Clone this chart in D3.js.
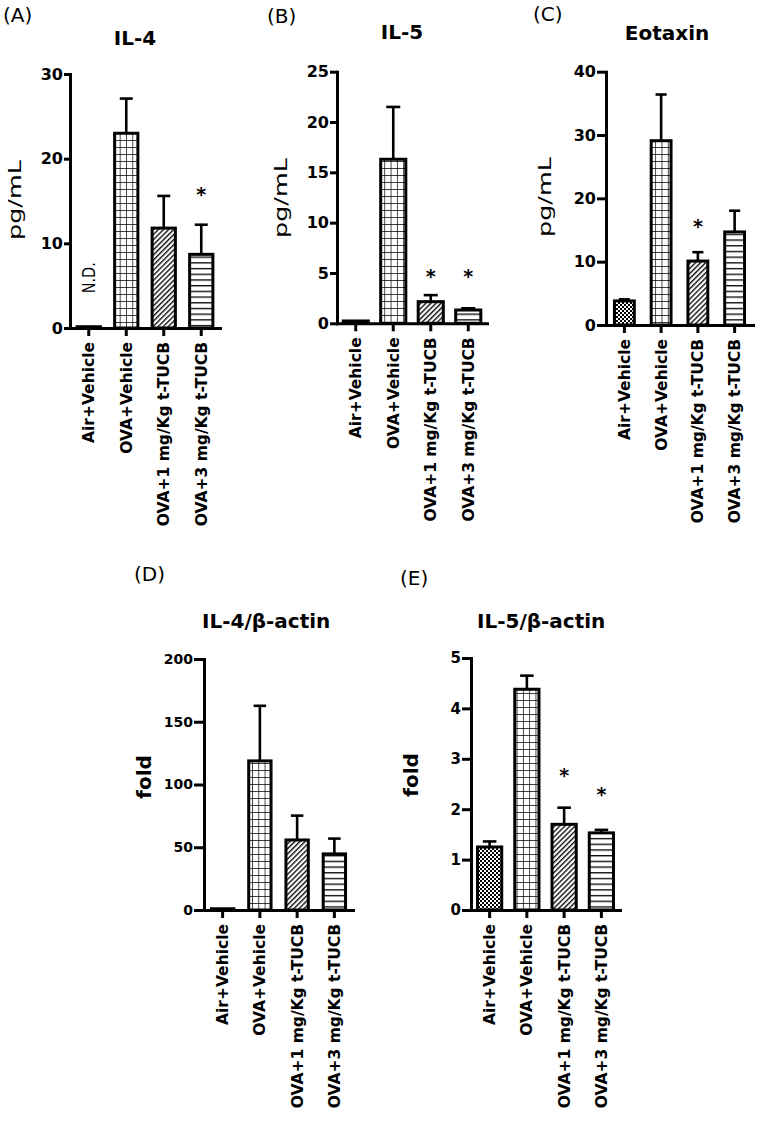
<!DOCTYPE html>
<html><head><meta charset="utf-8">
<script src="https://cdn.jsdelivr.net/npm/d3@7"></script>
<style>body{margin:0;background:#fff} svg{display:block}</style>
</head><body>
<svg id="chart" width="757" height="1124"></svg>
<script>
// ---------- data ----------
const categories = ["Air+Vehicle", "OVA+Vehicle", "OVA+1 mg/Kg t-TUCB", "OVA+3 mg/Kg t-TUCB"];
const patternNames = ["checker", "grid", "diag", "hlines"];

const il4Mean = [0.15, 23.0, 11.8, 8.7];
const il4Sem  = [0, 4.1, 3.8, 3.5];
const il5Mean = [0.23, 16.3, 2.15, 1.32];
const il5Sem  = [0, 5.2, 0.65, 0.17];
const eotaxinMean = [3.8, 29.1, 10.1, 14.7];
const eotaxinSem  = [0.25, 7.3, 1.4, 3.35];
const il4ActinMean = [1, 118.8, 55.8, 44.7];
const il4ActinSem  = [0, 43.9, 19.4, 12.2];
const il5ActinMean = [1.25, 4.38, 1.70, 1.53];
const il5ActinSem  = [0.11, 0.27, 0.33, 0.06];

const ticksA = [0, 10, 20, 30];
const ticksB = [0, 5, 10, 15, 20, 25];
const ticksC = [0, 10, 20, 30, 40];
const ticksD = [0, 50, 100, 150, 200];
const ticksE = [0, 1, 2, 3, 4, 5];

// asterisk positions in data units (null = no mark)
const starsA = [null, null, null, 16.3];
const starsB = [null, null, 5.1, 5.1];
const starsC = [null, null, 16.2, null];
const starsD = [null, null, null, null];
const starsE = [null, null, 2.75, 2.38];

const panelLetters = ["(A)", "(B)", "(C)", "(D)", "(E)"];
const panelTitles = ["IL-4", "IL-5", "Eotaxin", "IL-4/β-actin", "IL-5/β-actin"];
const yTitles = ["pg/mL", "pg/mL", "pg/mL", "fold", "fold"];
const ndText = "N.D.";
const ndValue = 4.1; // bottom of the N.D. label, data units (panel A, Air)

// ---------- layout ----------
const layout = [
  {x0:70,  x1:220, yB:328,   yT:74,   pad:0.38, tl:6,  tf:16, title:[135,45,"middle"], letter:[3,22],   ylab:[15,200,false]},
  {x0:337, x1:487, yB:323.3, yT:71.7, pad:0.33, tl:7,  tf:16, title:[402,39,"middle"], letter:[267,23], ylab:[281,198,false]},
  {x0:606, x1:753, yB:325,   yT:71.7, pad:0.46, tl:9,  tf:16, title:[667,40,"middle"], letter:[533,21], ylab:[545,197,false]},
  {x0:204, x1:353, yB:910,   yT:659,  pad:0.40, tl:10, tf:14, title:[202,628,"start"], letter:[134,581], ylab:[144,777,true]},
  {x0:471, x1:620, yB:910,   yT:658,  pad:0.35, tl:9,  tf:15, title:[477,628,"start"], letter:[400,585], ylab:[411,775,true]}
];

const means = [il4Mean, il5Mean, eotaxinMean, il4ActinMean, il5ActinMean];
const sems  = [il4Sem, il5Sem, eotaxinSem, il4ActinSem, il5ActinSem];
const ticks = [ticksA, ticksB, ticksC, ticksD, ticksE];
const stars = [starsA, starsB, starsC, starsD, starsE];

const FONT = "'DejaVu Sans', sans-serif";
const svg = d3.select("#chart");

// ---------- patterns ----------
const defs = svg.append("defs");
{
  const p = defs.append("pattern").attr("id","checker").attr("patternUnits","userSpaceOnUse").attr("width",4).attr("height",4);
  p.append("rect").attr("width",4).attr("height",4).attr("fill","#fff");
  p.append("rect").attr("width",2).attr("height",2).attr("fill","#000");
  p.append("rect").attr("x",2).attr("y",2).attr("width",2).attr("height",2).attr("fill","#000");
}
{
  const p = defs.append("pattern").attr("id","grid").attr("patternUnits","userSpaceOnUse").attr("width",6.3).attr("height",7);
  p.append("rect").attr("width",6.3).attr("height",7).attr("fill","#fff");
  p.append("path").attr("d","M0,0H6.3M0,0V7").attr("stroke","#000").attr("stroke-width",1.4);
}
{
  const p = defs.append("pattern").attr("id","diag").attr("patternUnits","userSpaceOnUse").attr("width",3.6).attr("height",10)
    .attr("patternTransform","rotate(45)");
  p.append("rect").attr("width",3.6).attr("height",10).attr("fill","#fff");
  p.append("line").attr("x1",0.7).attr("x2",0.7).attr("y1",0).attr("y2",10).attr("stroke","#000").attr("stroke-width",1.3);
}
{
  const p = defs.append("pattern").attr("id","hlines").attr("patternUnits","userSpaceOnUse").attr("width",10).attr("height",5.7);
  p.append("rect").attr("width",10).attr("height",5.7).attr("fill","#fff");
  p.append("line").attr("x1",0).attr("x2",10).attr("y1",0.7).attr("y2",0.7).attr("stroke","#000").attr("stroke-width",1.3);
}

// ---------- panels ----------
layout.forEach((L, i) => {
  const g = svg.append("g");
  const tv = ticks[i];
  const y = d3.scaleLinear().domain([0, d3.max(tv)]).range([L.yB, L.yT]);
  const x = d3.scaleBand().domain(categories).range([L.x0, L.x1]).paddingInner(L.pad).paddingOuter(L.pad / 2);
  const bw = x.bandwidth();

  // bars
  g.selectAll("rect.bar").data(categories).join("rect")
    .attr("class","bar")
    .attr("x", c => x(c))
    .attr("width", bw)
    .attr("y", (c, k) => y(means[i][k]))
    .attr("height", (c, k) => y(0) - y(means[i][k]))
    .attr("fill", (c, k) => `url(#${patternNames[k]})`)
    .attr("stroke", "#000").attr("stroke-width", 3);

  // error bars (upper only)
  categories.forEach((c, k) => {
    const s = sems[i][k];
    if (!s) return;
    const cx = x(c) + bw / 2, yt = y(means[i][k] + s), yb = y(means[i][k]);
    g.append("line").attr("x1",cx).attr("x2",cx).attr("y1",yb).attr("y2",yt)
      .attr("stroke","#000").attr("stroke-width",2.6);
    g.append("line").attr("x1",cx - bw*0.28).attr("x2",cx + bw*0.28).attr("y1",yt).attr("y2",yt)
      .attr("stroke","#000").attr("stroke-width",2.6);
  });

  // asterisks
  categories.forEach((c, k) => {
    const v = stars[i][k];
    if (v == null) return;
    g.append("text").attr("x", x(c) + bw / 2).attr("y", y(v) + 11)
      .attr("text-anchor","middle").attr("font-family",FONT).attr("font-weight","bold")
      .attr("font-size",19).text("*");
  });

  // N.D. label
  if (i === 0) {
    const cx = x(categories[0]) + bw / 2;
    g.append("text").attr("transform", `translate(${cx},${y(ndValue)}) rotate(-90)`)
      .attr("dy","0.36em").attr("text-anchor","start")
      .attr("font-family",FONT).attr("font-size",17).attr("textLength",31).attr("lengthAdjust","spacingAndGlyphs")
      .text(ndText);
  }

  // y axis
  const ya = g.append("g").attr("transform", `translate(${L.x0},0)`)
    .call(d3.axisLeft(y).tickValues(tv).tickSize(L.tl).tickSizeOuter(0).tickPadding(1).tickFormat(d3.format("d")));
  ya.select(".domain").attr("stroke-width",3).attr("stroke-linecap","square");
  ya.selectAll(".tick line").attr("stroke-width",3);
  ya.selectAll(".tick text").attr("font-family",FONT).attr("font-weight","bold").attr("font-size",L.tf).attr("fill","#000");

  // x axis
  const xa = g.append("g").attr("transform", `translate(0,${L.yB})`)
    .call(d3.axisBottom(x).tickSize(8).tickSizeOuter(0));
  xa.select(".domain").attr("stroke-width",3).attr("stroke-linecap","square");
  xa.selectAll(".tick line").attr("stroke-width",3);
  xa.selectAll(".tick text")
    .attr("transform","rotate(-90)").attr("text-anchor","end")
    .attr("x",-14).attr("y",0).attr("dy","0.36em")
    .attr("font-family",FONT).attr("font-weight","bold").attr("font-size",15.5).attr("fill","#000");

  // title
  g.append("text").attr("x",L.title[0]).attr("y",L.title[1]).attr("text-anchor",L.title[2])
    .attr("font-family",FONT).attr("font-weight","bold").attr("font-size",20).text(panelTitles[i]);

  // panel letter
  g.append("text").attr("x",L.letter[0]).attr("y",L.letter[1])
    .attr("font-family",FONT).attr("font-size",20).text(panelLetters[i]);

  // y title
  const yl = g.append("text").attr("transform", `translate(${L.ylab[0]},${L.ylab[1]}) rotate(-90)`)
    .attr("text-anchor","middle").attr("dy","0.35em")
    .attr("font-family",FONT).text(yTitles[i]);
  if (L.ylab[2]) yl.attr("font-weight","bold").attr("font-size",20);
  else yl.attr("font-size",18).attr("textLength",80).attr("lengthAdjust","spacingAndGlyphs");
});
</script>
</body></html>
